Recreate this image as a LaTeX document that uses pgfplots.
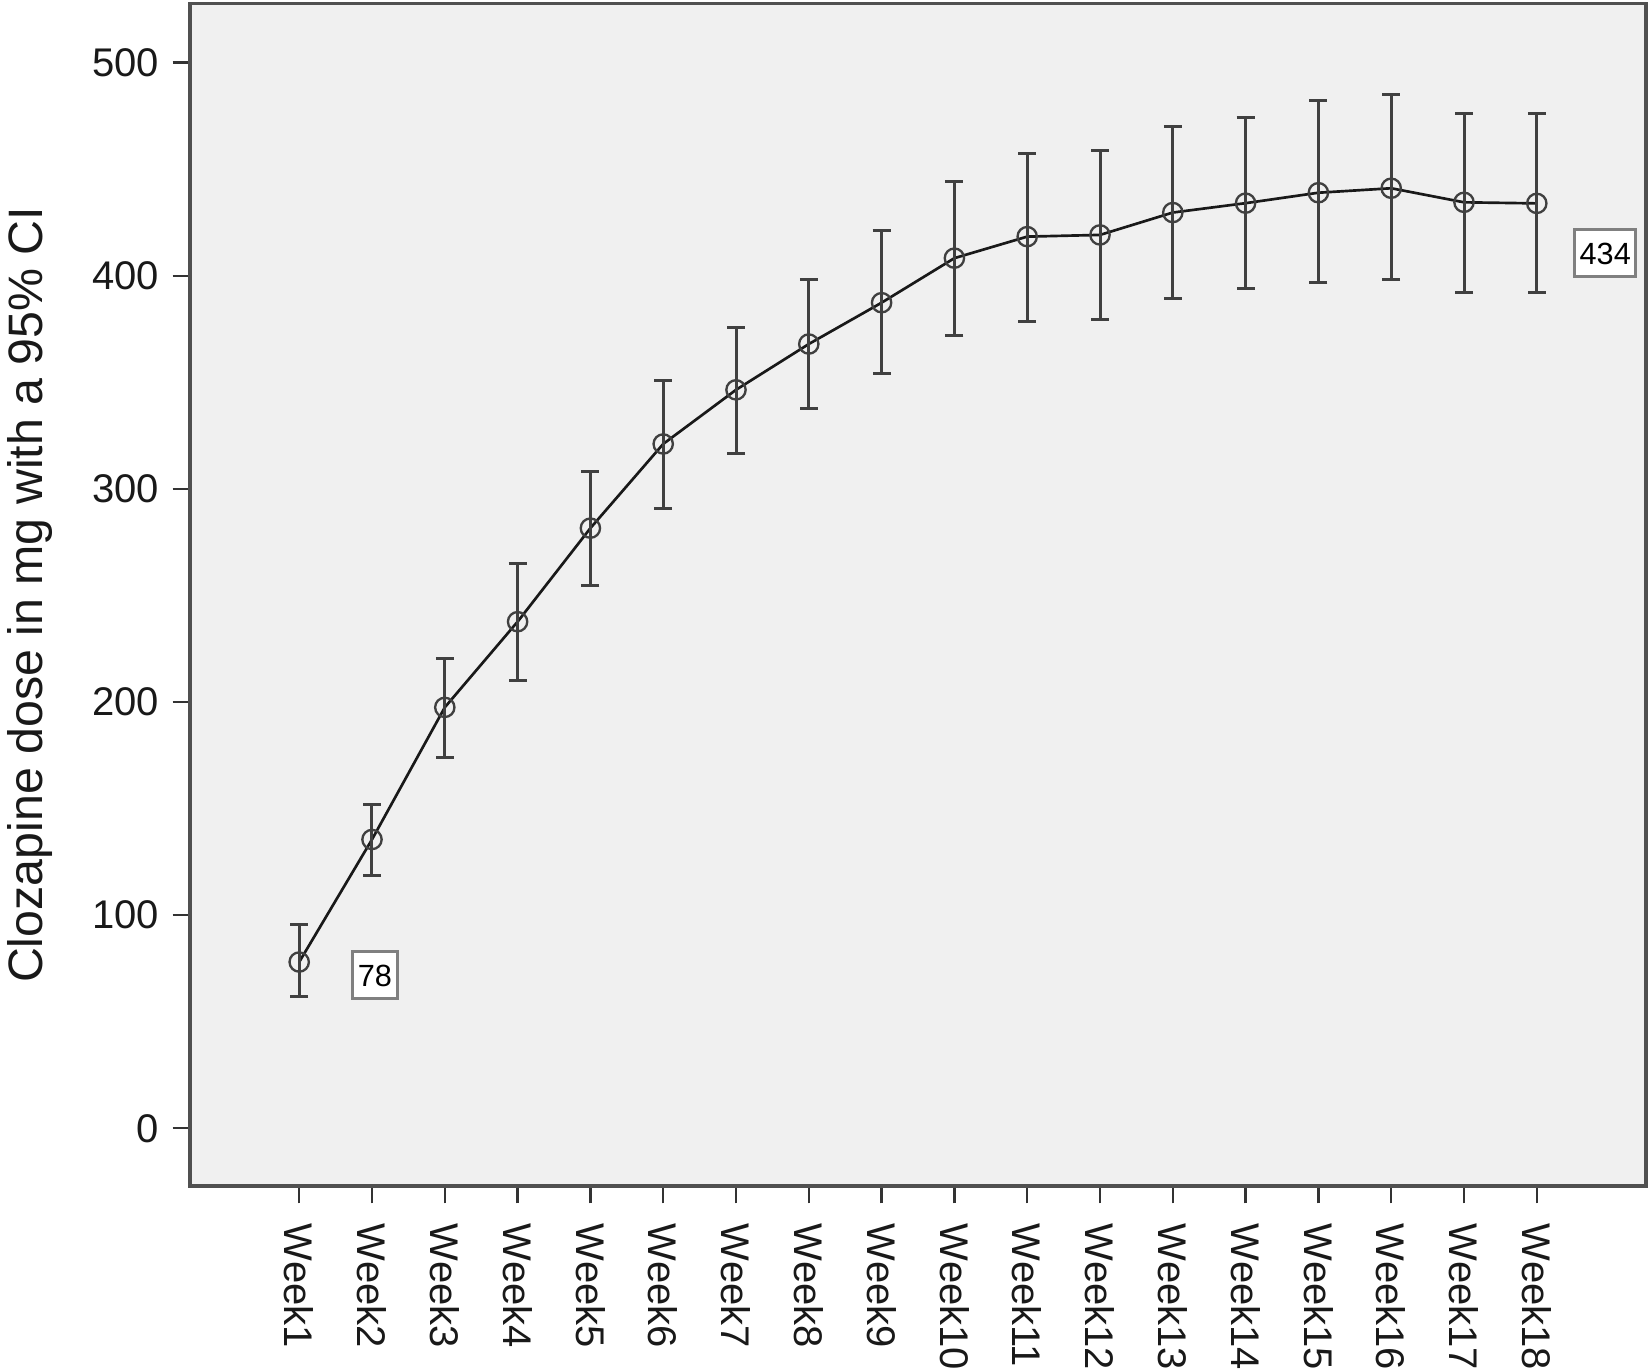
\documentclass[border=0pt]{standalone}
\usepackage{pgfplots}
\usepackage{pgfplotstable}
\pgfplotsset{compat=1.18}
\usepackage{fontspec}
\setmainfont{Liberation Sans}
\definecolor{bgc}{HTML}{F0F0F0}
\definecolor{framec}{HTML}{505050}
\definecolor{barc}{HTML}{404040}
\definecolor{boxc}{HTML}{808080}
\pgfplotstableread{
w m lo hi
1 78.0 61.8 95.7
2 135.5 118.4 151.7
3 197.5 174.1 220.6
4 237.7 210.0 265.1
5 281.6 254.8 308.1
6 321.1 290.9 351.1
7 346.5 316.4 375.7
8 368.0 337.9 398.5
9 387.4 354.3 421.1
10 408.3 371.8 444.2
11 418.4 378.8 457.4
12 419.2 379.3 458.6
13 429.7 389.5 470.0
14 434.1 394.2 474.2
15 439.0 397.0 482.1
16 441.1 398.4 484.9
17 434.5 392.3 476.3
18 434.0 392.3 476.3
}\dosedata
\begin{document}
\begin{tikzpicture}
\useasboundingbox (-57pt,-55.8pt) rectangle (438pt,355.8pt);
\begin{axis}[
  at={(0,0)}, anchor=south west,
  scale only axis, width=436.8pt, height=354.75pt,
  xmin=-0.5, xmax=19.5, ymin=-27.1, ymax=527.8,
  axis background/.style={fill=bgc},
  axis line style={framec, line width=1pt},
  xtick={1,...,18},
  xticklabels={Week1,Week2,Week3,Week4,Week5,Week6,Week7,Week8,Week9,Week10,Week11,Week12,Week13,Week14,Week15,Week16,Week17,Week18},
  ytick={0,100,...,500},
  tick align=outside, major tick length=5.2pt,
  xtick pos=bottom, ytick pos=left,
  tick style={color=black!80, line width=0.75pt},
  /pgf/number format/assume math mode=true,
  yticklabel shift=3.9pt,
  xticklabel shift=6pt,
  yticklabel style={font=\fontsize{12}{14}\selectfont, anchor=east, inner sep=0pt, text=black!90},
  xticklabel style={font=\fontsize{12}{14}\selectfont, rotate=-90, anchor=west, inner sep=0pt, text=black!90},
  ylabel={Clozapine dose in mg with a 95\% CI},
  ylabel style={at={(axis description cs:-0.12569,0.5)}, anchor=north, inner sep=0pt, font=\fontsize{14.5}{16}\selectfont, text=black!90},
]
\addplot[color=black!90, line width=0.8pt, mark=o, mark size=2.9pt,
  mark options={color=barc, line width=0.7pt, solid},
  error bars/.cd, y dir=both, y explicit,
  error bar style={color=barc, line width=0.9pt},
  error mark options={rotate=90, mark size=2.7pt, line width=0.9pt, color=barc}]
  table[x=w, y=m, y error plus expr=\thisrow{hi}-\thisrow{m}, y error minus expr=\thisrow{m}-\thisrow{lo}] {\dosedata};
\node[draw=boxc, line width=0.9pt, fill=white, inner sep=0pt, minimum width=13.5pt, minimum height=14.1pt, font=\fontsize{9.2}{10}\selectfont] at (axis cs:2.04,71.7) {78};
\node[draw=boxc, line width=0.9pt, fill=white, inner sep=0pt, minimum width=18.3pt, minimum height=14.1pt, font=\fontsize{9.2}{10}\selectfont] at (axis cs:18.94,410.5) {434};
\end{axis}
\end{tikzpicture}
\end{document}
